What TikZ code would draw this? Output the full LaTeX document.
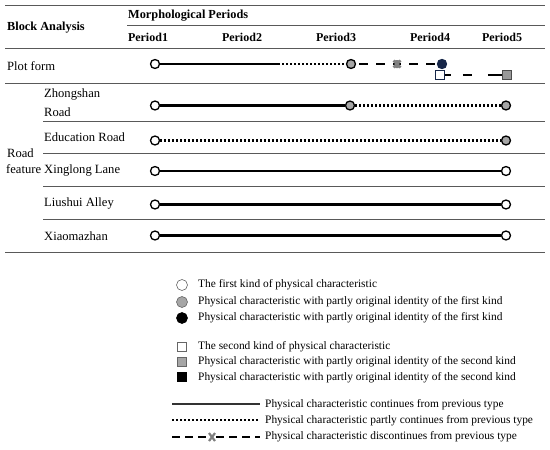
\documentclass[tikz,border=0pt]{standalone}
\usepackage{fontspec}
\setmainfont{Liberation Serif}
\usetikzlibrary{calc}
\begin{document}
\begin{tikzpicture}[x=1pt,y=-1pt,
  txt/.style={anchor=west,inner sep=0pt,font=\fontsize{12.6}{14}\selectfont},
  leg/.style={anchor=west,inner sep=0pt,font=\fontsize{11.4}{13}\selectfont},
  hdr/.style={anchor=west,inner sep=0pt,font=\fontsize{12.3}{14}\selectfont\bfseries},
  per/.style={inner sep=0pt,font=\fontsize{12}{14}\selectfont\bfseries},
  rule/.style={draw=black!65,line width=0.9pt},
  mk/.style={circle,draw=black,line width=1.3pt,minimum size=9pt,inner sep=0pt,fill=white},
  gmk/.style={mk,fill=black!35},
  bmk/.style={mk,fill=navy,draw=navy},
  sq/.style={rectangle,draw=navy,line width=1.3pt,minimum size=8.5pt,inner sep=0pt,fill=white},
  gsq/.style={sq,draw=black!70,fill=black!40},
  lmk/.style={circle,draw=black!60,line width=0.6pt,minimum size=11pt,inner sep=0pt},
  lsq/.style={rectangle,draw=black!60,line width=0.6pt,minimum size=9pt,inner sep=0pt},
  sol/.style={draw=black,line width=2.8pt},
  dotl/.style={draw=black,line width=2.8pt,dash pattern=on 2.2pt off 1.8pt},
  dashl/.style={draw=black,line width=2.8pt,dash pattern=on 9pt off 8pt},
  xmk/.style={draw=black!50,line width=2.6pt}
]
\definecolor{navy}{RGB}{22,38,72}
\useasboundingbox (0,0) rectangle (550,450);
% rules
\draw[rule] (5,5) -- (545,5);
\draw[rule] (127,25) -- (545,25);
\draw[rule] (5,48) -- (545,48);
\draw[rule] (5,83) -- (545,83);
\draw[rule] (43,121) -- (545,121);
\draw[rule] (43,153) -- (545,153);
\draw[rule] (43,186) -- (545,186);
\draw[rule] (43,219) -- (545,219);
\draw[rule] (5,252) -- (545,252);
% header
\node[hdr] (ba) at (7,28) {Block Analysis};
\node[hdr] (mp) at (128,16) {Morphological Periods};
\node[per] (p1) at (148,37) {Period1};
\node[per] (p2) at (242,37) {Period2};
\node[per] (p3) at (336,37) {Period3};
\node[per] (p4) at (430,37) {Period4};
\node[per] (p5) at (502,37) {Period5};
% row labels
\node[txt] (pf) at (7,66) {Plot form};
\node[txt] (zr1) at (44,94) {Zhongshan};
\node[txt] (zr2) at (44,112) {Road};
\node[txt] (er) at (44,137) {Education Road};
\node[txt] (rd) at (7,153) {Road};
\node[txt] (ft) at (6,169) {feature};
\node[txt] (xl) at (44,170) {Xinglong Lane};
\node[txt] (la) at (44,203) {Liushui Alley};
\node[txt] (xm) at (44,236) {Xiaomazhan};
% plot form row
\coordinate (pfm) at (278,64);
\node[mk] (pa) at (155,64) {};
\node[gmk] (pb) at (351,64) {};
\node[bmk] (pc) at (442,64) {};
\coordinate (px) at (397,64);
\draw[sol] (pa) -- (pfm);
\draw[dotl] (pfm) -- (pb);
\draw[dashl,dash phase=-3pt] (pb) -- (px);
\draw[dashl,dash phase=-12pt] (px) -- (pc);
\draw[xmk] ($(px)+(-3.5,-3.5)$) -- ($(px)+(3.5,3.5)$) ($(px)+(-3.5,3.5)$) -- ($(px)+(3.5,-3.5)$)
  ($(px)+(0,-4)$) -- ($(px)+(0,4)$);
\node[sq] (qa) at (440,75) {};
\node[gsq] (qb) at (507,75) {};
\draw[dashl,dash pattern=on 6pt off 12pt on 9pt off 16pt on 20pt] (qa) -- (qb);
% Zhongshan
\node[mk] (za) at (155,105.5) {};
\node[gmk] (zb) at (350,105.5) {};
\node[gmk] (zc) at (506,105.5) {};
\draw[sol] (za) -- (zb);
\draw[dotl] (zb) -- (zc);
% Education
\node[mk] (ea) at (155,140.5) {};
\node[gmk] (eb) at (506,140.5) {};
\draw[dotl] (ea) -- (eb);
% Xinglong
\node[mk] (xa) at (155,171) {};
\node[mk] (xb) at (506,171) {};
\draw[sol] (xa) -- (xb);
% Liushui
\node[mk] (la1) at (155,204.5) {};
\node[mk] (la2) at (506,204.5) {};
\draw[sol] (la1) -- (la2);
% Xiaomazhan
\node[mk] (ma) at (155,235.5) {};
\node[mk] (mb) at (506,235.5) {};
\draw[sol] (ma) -- (mb);
% legend
\node[lmk] (l1) at (182,285) {};
\node[lmk,fill=black!35] (l2) at (182,302) {};
\node[lmk,fill=black,draw=black] (l3) at (182,318) {};
\node[lsq] (l4) at (182,347) {};
\node[lsq,fill=black!35] (l5) at (182,362) {};
\node[lsq,fill=black,draw=black] (l6) at (182,377) {};
\node[leg] (t1) at (198,285) {The first kind of physical characteristic};
\node[leg] (t2) at (198,302) {Physical characteristic with partly original identity of the first kind};
\node[leg] (t3) at (198,318) {Physical characteristic with partly original identity of the first kind};
\node[leg] (t4) at (198,347) {The second kind of physical characteristic};
\node[leg] (t5) at (198,362) {Physical characteristic with partly original identity of the second kind};
\node[leg] (t6) at (198,378) {Physical characteristic with partly original identity of the second kind};
\node[leg] (t7) at (265,405) {Physical characteristic continues from previous type};
\node[leg] (t8) at (265,421) {Physical characteristic partly continues from previous type};
\node[leg] (t9) at (265,437) {Physical characteristic discontinues from previous type};
\coordinate (s1) at (172,404);
\coordinate (s2) at (260,404);
\coordinate (d1) at (172,420);
\coordinate (d2) at (260,420);
\coordinate (e1) at (172,437);
\coordinate (ex) at (212,437);
\coordinate (e2) at (260,437);
\draw[draw=black!80,line width=2pt] (s1) -- (s2);
\draw[draw=black,line width=1.6pt,dash pattern=on 1.5pt off 2.5pt] (d1) -- (d2);
\draw[draw=black,line width=1.8pt,dash pattern=on 8pt off 5pt] (e1) -- (ex);
\draw[draw=black,line width=1.8pt,dash pattern=on 8pt off 5pt,dash phase=-4pt] (ex) -- (e2);
\draw[xmk,line width=2.2pt] ($(ex)+(-3,-4)$) -- ($(ex)+(3,4)$) ($(ex)+(-3,4)$) -- ($(ex)+(3,-4)$);
\end{tikzpicture}
\end{document}
